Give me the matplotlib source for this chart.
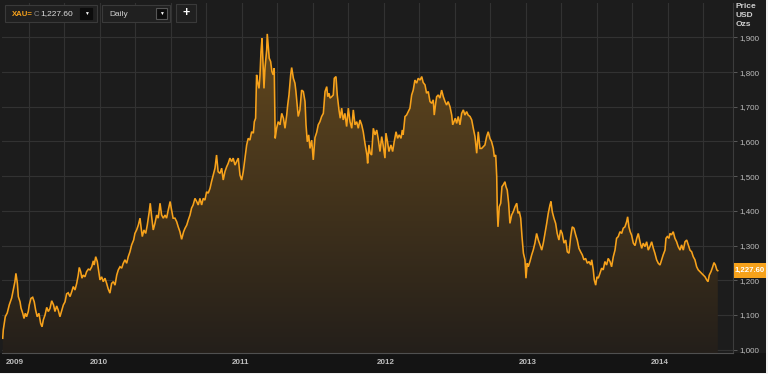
import numpy as np
import matplotlib
matplotlib.use("Agg")
import matplotlib.pyplot as plt
from matplotlib.patches import Rectangle

plt.rcParams['font.family'] = ['Liberation Sans', 'DejaVu Sans']

# ---- data (decimal-year position on the chart's time axis, gold price USD/oz) ----
years = [2009.315, 2009.319, 2009.333, 2009.347, 2009.361, 2009.378, 2009.389, 2009.401, 2009.408, 2009.418,
         2009.425, 2009.437, 2009.444, 2009.456, 2009.465, 2009.474, 2009.483, 2009.495, 2009.502, 2009.514,
         2009.526, 2009.537, 2009.547, 2009.558, 2009.570, 2009.582, 2009.592, 2009.601, 2009.613, 2009.625,
         2009.636, 2009.648, 2009.660, 2009.673, 2009.683, 2009.695, 2009.706, 2009.718, 2009.730, 2009.742,
         2009.754, 2009.765, 2009.776, 2009.789, 2009.801, 2009.812, 2009.824, 2009.836, 2009.847, 2009.854,
         2009.864, 2009.873, 2009.882, 2009.894, 2009.906, 2009.918, 2009.930, 2009.942, 2009.953, 2009.959,
         2009.970, 2009.981, 2009.988, 2010.000, 2010.012, 2010.023, 2010.035, 2010.047, 2010.058, 2010.070,
         2010.082, 2010.094, 2010.106, 2010.118, 2010.129, 2010.141, 2010.153, 2010.164, 2010.176, 2010.188,
         2010.199, 2010.211, 2010.223, 2010.237, 2010.246, 2010.258, 2010.270, 2010.282, 2010.289, 2010.298,
         2010.310, 2010.322, 2010.333, 2010.347, 2010.354, 2010.364, 2010.375, 2010.387, 2010.399, 2010.410,
         2010.423, 2010.434, 2010.446, 2010.458, 2010.469, 2010.481, 2010.494, 2010.504, 2010.515, 2010.528,
         2010.540, 2010.551, 2010.563, 2010.575, 2010.589, 2010.599, 2010.611, 2010.622, 2010.634, 2010.645,
         2010.656, 2010.669, 2010.681, 2010.692, 2010.704, 2010.716, 2010.727, 2010.739, 2010.751, 2010.762,
         2010.775, 2010.786, 2010.797, 2010.810, 2010.821, 2010.832, 2010.845, 2010.857, 2010.868, 2010.880,
         2010.892, 2010.903, 2010.915, 2010.927, 2010.938, 2010.951, 2010.962, 2010.974, 2010.986, 2010.998,
         2011.009, 2011.021, 2011.033, 2011.044, 2011.056, 2011.068, 2011.080, 2011.087, 2011.096, 2011.103,
         2011.110, 2011.120, 2011.127, 2011.134, 2011.141, 2011.146, 2011.155, 2011.162, 2011.174, 2011.178,
         2011.186, 2011.192, 2011.202, 2011.211, 2011.220, 2011.227, 2011.234, 2011.244, 2011.255, 2011.268,
         2011.280, 2011.292, 2011.303, 2011.315, 2011.322, 2011.331, 2011.343, 2011.350, 2011.362, 2011.373,
         2011.380, 2011.389, 2011.396, 2011.408, 2011.420, 2011.432, 2011.444, 2011.451, 2011.460, 2011.470,
         2011.479, 2011.491, 2011.502, 2011.514, 2011.526, 2011.537, 2011.549, 2011.561, 2011.573, 2011.585,
         2011.597, 2011.604, 2011.613, 2011.620, 2011.632, 2011.643, 2011.650, 2011.662, 2011.671, 2011.683,
         2011.692, 2011.702, 2011.713, 2011.725, 2011.737, 2011.749, 2011.761, 2011.773, 2011.784, 2011.796,
         2011.808, 2011.819, 2011.831, 2011.843, 2011.854, 2011.866, 2011.880, 2011.885, 2011.894, 2011.903,
         2011.913, 2011.925, 2011.937, 2011.949, 2011.959, 2011.972, 2011.984, 2011.994, 2012.007, 2012.014,
         2012.025, 2012.035, 2012.049, 2012.061, 2012.072, 2012.085, 2012.096, 2012.107, 2012.120, 2012.129,
         2012.135, 2012.148, 2012.159, 2012.171, 2012.183, 2012.195, 2012.206, 2012.218, 2012.230, 2012.241,
         2012.254, 2012.266, 2012.276, 2012.289, 2012.300, 2012.312, 2012.324, 2012.336, 2012.347, 2012.354,
         2012.364, 2012.371, 2012.382, 2012.394, 2012.406, 2012.418, 2012.430, 2012.441, 2012.452, 2012.465,
         2012.477, 2012.484, 2012.493, 2012.502, 2012.512, 2012.523, 2012.535, 2012.547, 2012.559, 2012.570,
         2012.582, 2012.593, 2012.606, 2012.618, 2012.629, 2012.641, 2012.653, 2012.664, 2012.676, 2012.688,
         2012.699, 2012.711, 2012.723, 2012.734, 2012.746, 2012.758, 2012.770, 2012.777, 2012.787, 2012.794,
         2012.798, 2012.803, 2012.812, 2012.822, 2012.831, 2012.840, 2012.852, 2012.859, 2012.868, 2012.878,
         2012.887, 2012.899, 2012.911, 2012.923, 2012.935, 2012.944, 2012.953, 2012.963, 2012.972, 2012.982,
         2012.993, 2013.000, 2013.009, 2013.016, 2013.028, 2013.040, 2013.051, 2013.063, 2013.075, 2013.087,
         2013.099, 2013.111, 2013.122, 2013.134, 2013.146, 2013.157, 2013.169, 2013.176, 2013.185, 2013.197,
         2013.209, 2013.220, 2013.232, 2013.244, 2013.255, 2013.268, 2013.280, 2013.291, 2013.303, 2013.315,
         2013.326, 2013.338, 2013.350, 2013.361, 2013.373, 2013.385, 2013.397, 2013.408, 2013.420, 2013.432,
         2013.444, 2013.456, 2013.463, 2013.474, 2013.481, 2013.491, 2013.500, 2013.509, 2013.521, 2013.533,
         2013.544, 2013.556, 2013.568, 2013.579, 2013.592, 2013.603, 2013.615, 2013.627, 2013.638, 2013.650,
         2013.662, 2013.674, 2013.685, 2013.697, 2013.709, 2013.716, 2013.725, 2013.734, 2013.744, 2013.756,
         2013.768, 2013.780, 2013.791, 2013.803, 2013.815, 2013.826, 2013.838, 2013.850, 2013.861, 2013.873,
         2013.885, 2013.897, 2013.908, 2013.920, 2013.932, 2013.944, 2013.955, 2013.966, 2013.979, 2013.986,
         2013.995, 2014.007, 2014.014, 2014.025, 2014.037, 2014.049, 2014.061, 2014.072, 2014.085, 2014.096,
         2014.108, 2014.120, 2014.132, 2014.143, 2014.155, 2014.167, 2014.178, 2014.190, 2014.202, 2014.213,
         2014.225, 2014.237, 2014.249, 2014.261, 2014.273, 2014.282, 2014.291, 2014.303, 2014.315, 2014.324,
         2014.334, 2014.344, 2014.351]

prices = [1033, 1057, 1095, 1106, 1129, 1149, 1172, 1196, 1220, 1192,
          1153, 1138, 1120, 1105, 1090, 1105, 1095, 1110, 1129, 1148,
          1151, 1138, 1114, 1095, 1105, 1076, 1066, 1086, 1100, 1122,
          1110, 1119, 1141, 1129, 1110, 1126, 1114, 1095, 1112, 1129,
          1138, 1161, 1164, 1153, 1167, 1182, 1172, 1191, 1215, 1237,
          1225, 1206, 1215, 1210, 1225, 1232, 1230, 1239, 1256, 1244,
          1268, 1254, 1235, 1201, 1210, 1196, 1206, 1191, 1175, 1163,
          1191, 1196, 1186, 1215, 1230, 1239, 1235, 1249, 1259, 1249,
          1268, 1282, 1302, 1316, 1335, 1345, 1359, 1379, 1354, 1326,
          1345, 1335, 1359, 1398, 1422, 1383, 1345, 1364, 1388, 1379,
          1422, 1388, 1379, 1388, 1379, 1403, 1427, 1403, 1379, 1379,
          1369, 1354, 1340, 1318, 1340, 1350, 1359, 1374, 1388, 1408,
          1417, 1436, 1427, 1417, 1436, 1417, 1436, 1431, 1455, 1451,
          1465, 1485, 1503, 1523, 1561, 1513, 1508, 1523, 1489, 1513,
          1527, 1537, 1552, 1542, 1552, 1532, 1542, 1552, 1503, 1489,
          1513, 1552, 1590, 1609, 1604, 1628, 1624, 1657, 1667, 1792,
          1772, 1753, 1792, 1859, 1897, 1849, 1753, 1811, 1864, 1910,
          1869, 1840, 1830, 1801, 1792, 1811, 1609, 1638, 1657, 1648,
          1681, 1667, 1638, 1676, 1705, 1734, 1792, 1813, 1782, 1768,
          1744, 1705, 1672, 1691, 1748, 1744, 1715, 1648, 1599, 1619,
          1580, 1604, 1547, 1611, 1626, 1648, 1657, 1672, 1681, 1744,
          1758, 1729, 1739, 1725, 1729, 1734, 1782, 1787, 1734, 1691,
          1667, 1696, 1662, 1681, 1643, 1696, 1657, 1638, 1691, 1648,
          1657, 1638, 1662, 1648, 1628, 1595, 1561, 1537, 1590, 1566,
          1561, 1638, 1619, 1633, 1609, 1571, 1614, 1590, 1552, 1624,
          1599, 1571, 1590, 1571, 1599, 1628, 1609, 1619, 1609, 1633,
          1619, 1672, 1676, 1686, 1696, 1734, 1748, 1777, 1768, 1782,
          1777, 1787, 1770, 1763, 1739, 1744, 1715, 1710, 1720, 1676,
          1710, 1729, 1734, 1725, 1748, 1729, 1715, 1705, 1715, 1700,
          1676, 1648, 1657, 1667, 1652, 1672, 1648, 1681, 1691, 1676,
          1686, 1676, 1672, 1662, 1638, 1614, 1566, 1628, 1580, 1580,
          1585, 1590, 1614, 1628, 1609, 1599, 1580, 1556, 1561, 1499,
          1403, 1354, 1412, 1422, 1470, 1475, 1484, 1470, 1460, 1422,
          1364, 1388, 1398, 1412, 1422, 1393, 1398, 1379, 1326, 1278,
          1259, 1206, 1249, 1239, 1254, 1273, 1287, 1307, 1335, 1316,
          1302, 1287, 1307, 1335, 1364, 1393, 1417, 1427, 1398, 1379,
          1364, 1335, 1316, 1345, 1335, 1307, 1316, 1282, 1278, 1326,
          1354, 1350, 1331, 1316, 1292, 1282, 1273, 1259, 1263, 1249,
          1254, 1244, 1259, 1230, 1201, 1186, 1210, 1206, 1220, 1235,
          1230, 1254, 1244, 1263, 1254, 1239, 1268, 1287, 1321, 1326,
          1340, 1335, 1350, 1354, 1369, 1383, 1354, 1340, 1330, 1307,
          1300, 1321, 1335, 1311, 1292, 1307, 1297, 1311, 1287, 1297,
          1311, 1292, 1278, 1259, 1249, 1244, 1259, 1273, 1287, 1321,
          1326, 1321, 1335, 1331, 1340, 1321, 1311, 1297, 1287, 1302,
          1287, 1311, 1316, 1302, 1287, 1282, 1268, 1259, 1239, 1230,
          1225, 1220, 1215, 1210, 1201, 1196, 1215, 1225, 1239, 1251,
          1244, 1230, 1227.6]

year_label_pos = [2009.40, 2009.99, 2010.99, 2012.01, 2013.01, 2013.94]
year_labels = ["2009", "2010", "2011", "2012", "2013", "2014"]
price_ticks = [1000, 1100, 1200, 1300, 1400, 1500, 1600, 1700, 1800, 1900]
quarter_lines = [2009.5 + 0.25 * i for i in range(20)]
last_price = 1227.60
ric = "XAU="
interval = "Daily"

# ---- styling ----
W, H = 768, 374
BG = "#1c1c1c"
LINE = "#f7a21b"
GRID = "#323232"
TXT = "#bdbdbd"

fig = plt.figure(figsize=(W / 100, H / 100), dpi=100)
fig.patch.set_facecolor("#f2f2f2")

def fx(x):
    return x / W

def fy(y):
    return 1 - y / H

# dark canvas (leaves a thin light edge right/bottom like the screenshot)
fig.patches.append(Rectangle((0, fy(372.5)), fx(766), 372.5 / H, transform=fig.transFigure,
                             facecolor=BG, edgecolor="none", zorder=-10))
# bottom date strip
fig.patches.append(Rectangle((0, fy(372.5)), fx(766), (372.5 - 353) / H, transform=fig.transFigure,
                             facecolor="#141414", edgecolor="none", zorder=-9))

ax = fig.add_axes([fx(2), fy(353), fx(733 - 2), (353 - 3) / H])
ax.set_zorder(1)
ax.set_facecolor(BG)
x0, x1 = 2009.310, 2014.458
y0, y1 = 990.5, 1999
ax.set_xlim(x0, x1)
ax.set_ylim(y0, y1)

# gradient area fill under the line
poly = ax.fill_between(years, prices, y0, facecolor="none", edgecolor="none")
ny = 256
t = np.linspace(0, 1, ny).reshape(-1, 1)
top = np.array([105, 76, 30]) / 255.0
bot = np.array([36, 31, 26]) / 255.0
img = np.zeros((ny, 1, 4))
img[..., :3] = bot + (top - bot) * t[..., None]
img[..., 3] = 1.0
im = ax.imshow(img, extent=[x0, x1, y0, y1], origin="lower", aspect="auto", zorder=1,
               interpolation="bilinear")
im.set_clip_path(poly.get_paths()[0], transform=ax.transData)

ax.plot(years, prices, color=LINE, lw=1.15, zorder=3, solid_joinstyle="miter")

# grid
for q in quarter_lines:
    ax.axvline(q, color=GRID, lw=0.8, zorder=0.5)
ax.set_yticks(price_ticks)
ax.set_yticklabels([f"{v:,}" for v in price_ticks])
ax.yaxis.grid(True, color=GRID, lw=0.8, zorder=0.5)
ax.set_axisbelow(True)
ax.yaxis.tick_right()
ax.tick_params(axis="y", colors="#5a5a5a", length=3, width=0.7, pad=1.5,
               labelsize=5.8, labelcolor=TXT)

ax.set_xticks(year_label_pos)
ax.set_xticklabels(year_labels)
ax.tick_params(axis="x", length=0, pad=4.5, labelsize=5.8, labelcolor=TXT)
for lab in ax.get_xticklabels():
    lab.set_fontweight("bold")

for s in ["top", "left"]:
    ax.spines[s].set_visible(False)
ax.spines["right"].set_color("#3c3c3c")
ax.spines["right"].set_linewidth(0.8)
ax.spines["bottom"].set_color("#505050")
ax.spines["bottom"].set_linewidth(0.8)

# axis title on the right
for txt, yy in [("Price", 6), ("USD", 15.5), ("Ozs", 25)]:
    fig.text(fx(735.5), fy(yy), txt, color="#cfcfcf", fontsize=6, fontweight="bold",
             ha="left", va="center")

# last price tag
fig.patches.append(Rectangle((fx(733.5), fy(277.5)), fx(765.5 - 733.5), 14.5 / H,
                             transform=fig.transFigure, facecolor="#f7a21b", edgecolor="none", zorder=5))
fig.text(fx(749.5), fy(270.5), f"{last_price:,.2f}", color="white", fontsize=5.6, fontweight="bold",
         ha="center", va="center", zorder=6)

# toolbar widgets
def box(x, y, w, h, fc="#202020", ec="#3a3a3a"):
    fig.patches.append(Rectangle((fx(x), fy(y + h)), fx(w), h / H, transform=fig.transFigure,
                                 facecolor=fc, edgecolor=ec, lw=0.8, zorder=5))

box(5, 5, 92, 17)
box(80, 8, 12, 11, fc="#0c0c0c", ec="#0c0c0c")
fig.text(fx(11.5), fy(14), ric, color="#f7a21b", fontsize=5.6, fontweight="bold", ha="left", va="center", zorder=6)
fig.text(fx(33.5), fy(14), "C", color="#8a8a8a", fontsize=5.6, ha="left", va="center", zorder=6)
fig.text(fx(40.5), fy(14), f"{last_price:,.2f}", color="#dcdcdc", fontsize=6, ha="left", va="center", zorder=6)
fig.text(fx(86), fy(13.5), "▼", color="white", fontsize=3.5, ha="center", va="center", zorder=6)

box(102, 5, 68, 17)
box(156, 8, 11, 11, fc="#0c0c0c", ec="#555555")
fig.text(fx(109), fy(14), interval, color="#cfcfcf", fontsize=6, ha="left", va="center", zorder=6)
fig.text(fx(161.5), fy(13.5), "▼", color="white", fontsize=3.5, ha="center", va="center", zorder=6)

box(176, 4, 20, 18)
fig.text(fx(186), fy(13), "+", color="white", fontsize=9, fontweight="bold", ha="center", va="center", zorder=6)

fig.savefig("out.png", dpi=100, facecolor=fig.get_facecolor())
